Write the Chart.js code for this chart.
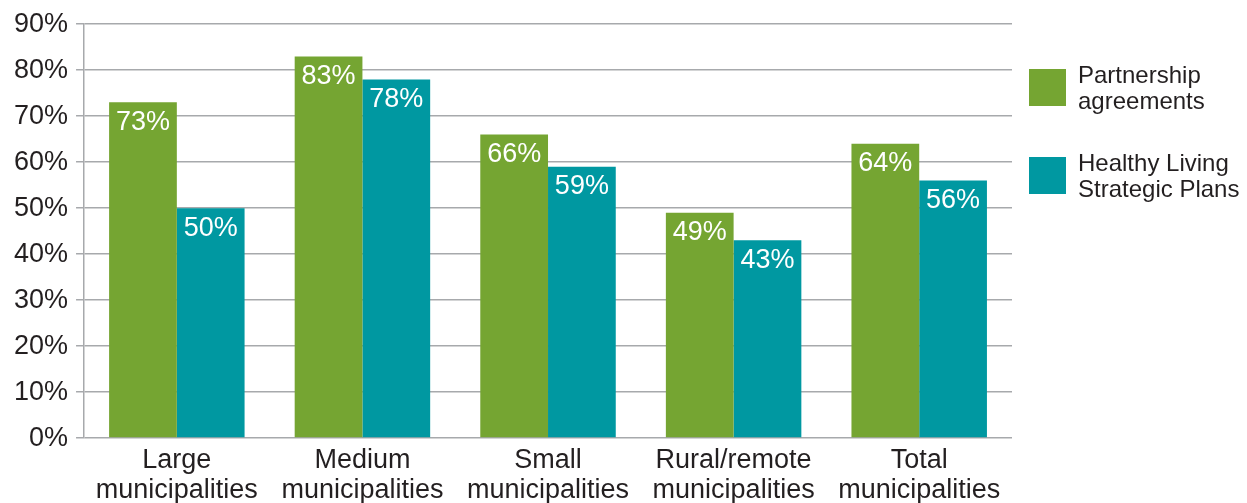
<!DOCTYPE html>
<html>
<head>
<meta charset="utf-8">
<script src="https://cdn.jsdelivr.net/npm/chart.js@4"></script>
<style>
  html, body { margin: 0; padding: 0; background: #fff; overflow: hidden; }
  #wrap { position: relative; width: 1247px; height: 514px; }
</style>
</head>
<body>
<div id="wrap"><canvas id="chart"></canvas></div>
<script>
const categories = [
    ['Large', 'municipalities'],
    ['Medium', 'municipalities'],
    ['Small', 'municipalities'],
    ['Rural/remote', 'municipalities'],
    ['Total', 'municipalities']
];
const partnershipAgreements = [73, 83, 66, 49, 64];
const strategicPlans = [50, 78, 59, 43, 56];
const seriesNames = ['Partnership agreements', 'Healthy Living Strategic Plans'];
const legendLines = [['Partnership', 'agreements'], ['Healthy Living', 'Strategic Plans']];
const seriesColors = ['#75a532', '#0098a1'];

const FONT = '"Liberation Sans", Arial, Helvetica, sans-serif';
const TEXT = '#231f20';
const GRID = '#a7a9ac';

// white percentage labels just inside the top of each bar
const valueLabels = {
    id: 'valueLabels',
    afterDatasetsDraw(chart) {
        const ctx = chart.ctx;
        ctx.save();
        ctx.font = '27px ' + FONT;
        ctx.fillStyle = '#fff';
        ctx.textAlign = 'center';
        ctx.textBaseline = 'middle';
        chart.data.datasets.forEach((ds, i) => {
            chart.getDatasetMeta(i).data.forEach((bar, j) => {
                ctx.fillText(ds.data[j] + '%', bar.x, bar.y + 20);
            });
        });
        ctx.restore();
    }
};

// legend on the right with two-line labels
const sideLegend = {
    id: 'sideLegend',
    afterDraw(chart) {
        const ctx = chart.ctx;
        const x = chart.chartArea.right + 17;
        ctx.save();
        ctx.font = '24px ' + FONT;
        ctx.textBaseline = 'middle';
        chart.data.datasets.forEach((ds, i) => {
            const top = 69 + i * 88;
            ctx.fillStyle = ds.backgroundColor;
            ctx.fillRect(x, top, 37, 37);
            ctx.fillStyle = TEXT;
            legendLines[i].forEach((line, k) => {
                ctx.fillText(line, x + 49, top + 7 + k * 26);
            });
        });
        ctx.restore();
    }
};

new Chart(document.getElementById('chart'), {
    type: 'bar',
    data: {
        labels: categories,
        datasets: [
            { label: seriesNames[0], data: partnershipAgreements, backgroundColor: seriesColors[0] },
            { label: seriesNames[1], data: strategicPlans, backgroundColor: seriesColors[1] }
        ]
    },
    options: {
        responsive: true,
        maintainAspectRatio: false,
        animation: false,
        layout: { padding: { top: 8, right: 235, left: 6, bottom: 0 } },
        datasets: { bar: { categoryPercentage: 0.73, barPercentage: 1.0 } },
        plugins: {
            legend: { display: false },
            tooltip: { enabled: false }
        },
        scales: {
            x: {
                grid: { display: false, drawTicks: false },
                border: { display: false },
                ticks: {
                    color: TEXT,
                    font: { family: FONT, size: 27, lineHeight: 1.11 },
                    padding: 8,
                    maxRotation: 0
                }
            },
            y: {
                min: 0,
                max: 90,
                ticks: {
                    stepSize: 10,
                    color: TEXT,
                    font: { family: FONT, size: 27 },
                    padding: 8,
                    callback: v => v + '%'
                },
                grid: { color: GRID, lineWidth: 1.5, tickLength: 8 },
                border: { color: GRID, width: 1.5 }
            }
        }
    },
    plugins: [valueLabels, sideLegend]
});
</script>
</body>
</html>
